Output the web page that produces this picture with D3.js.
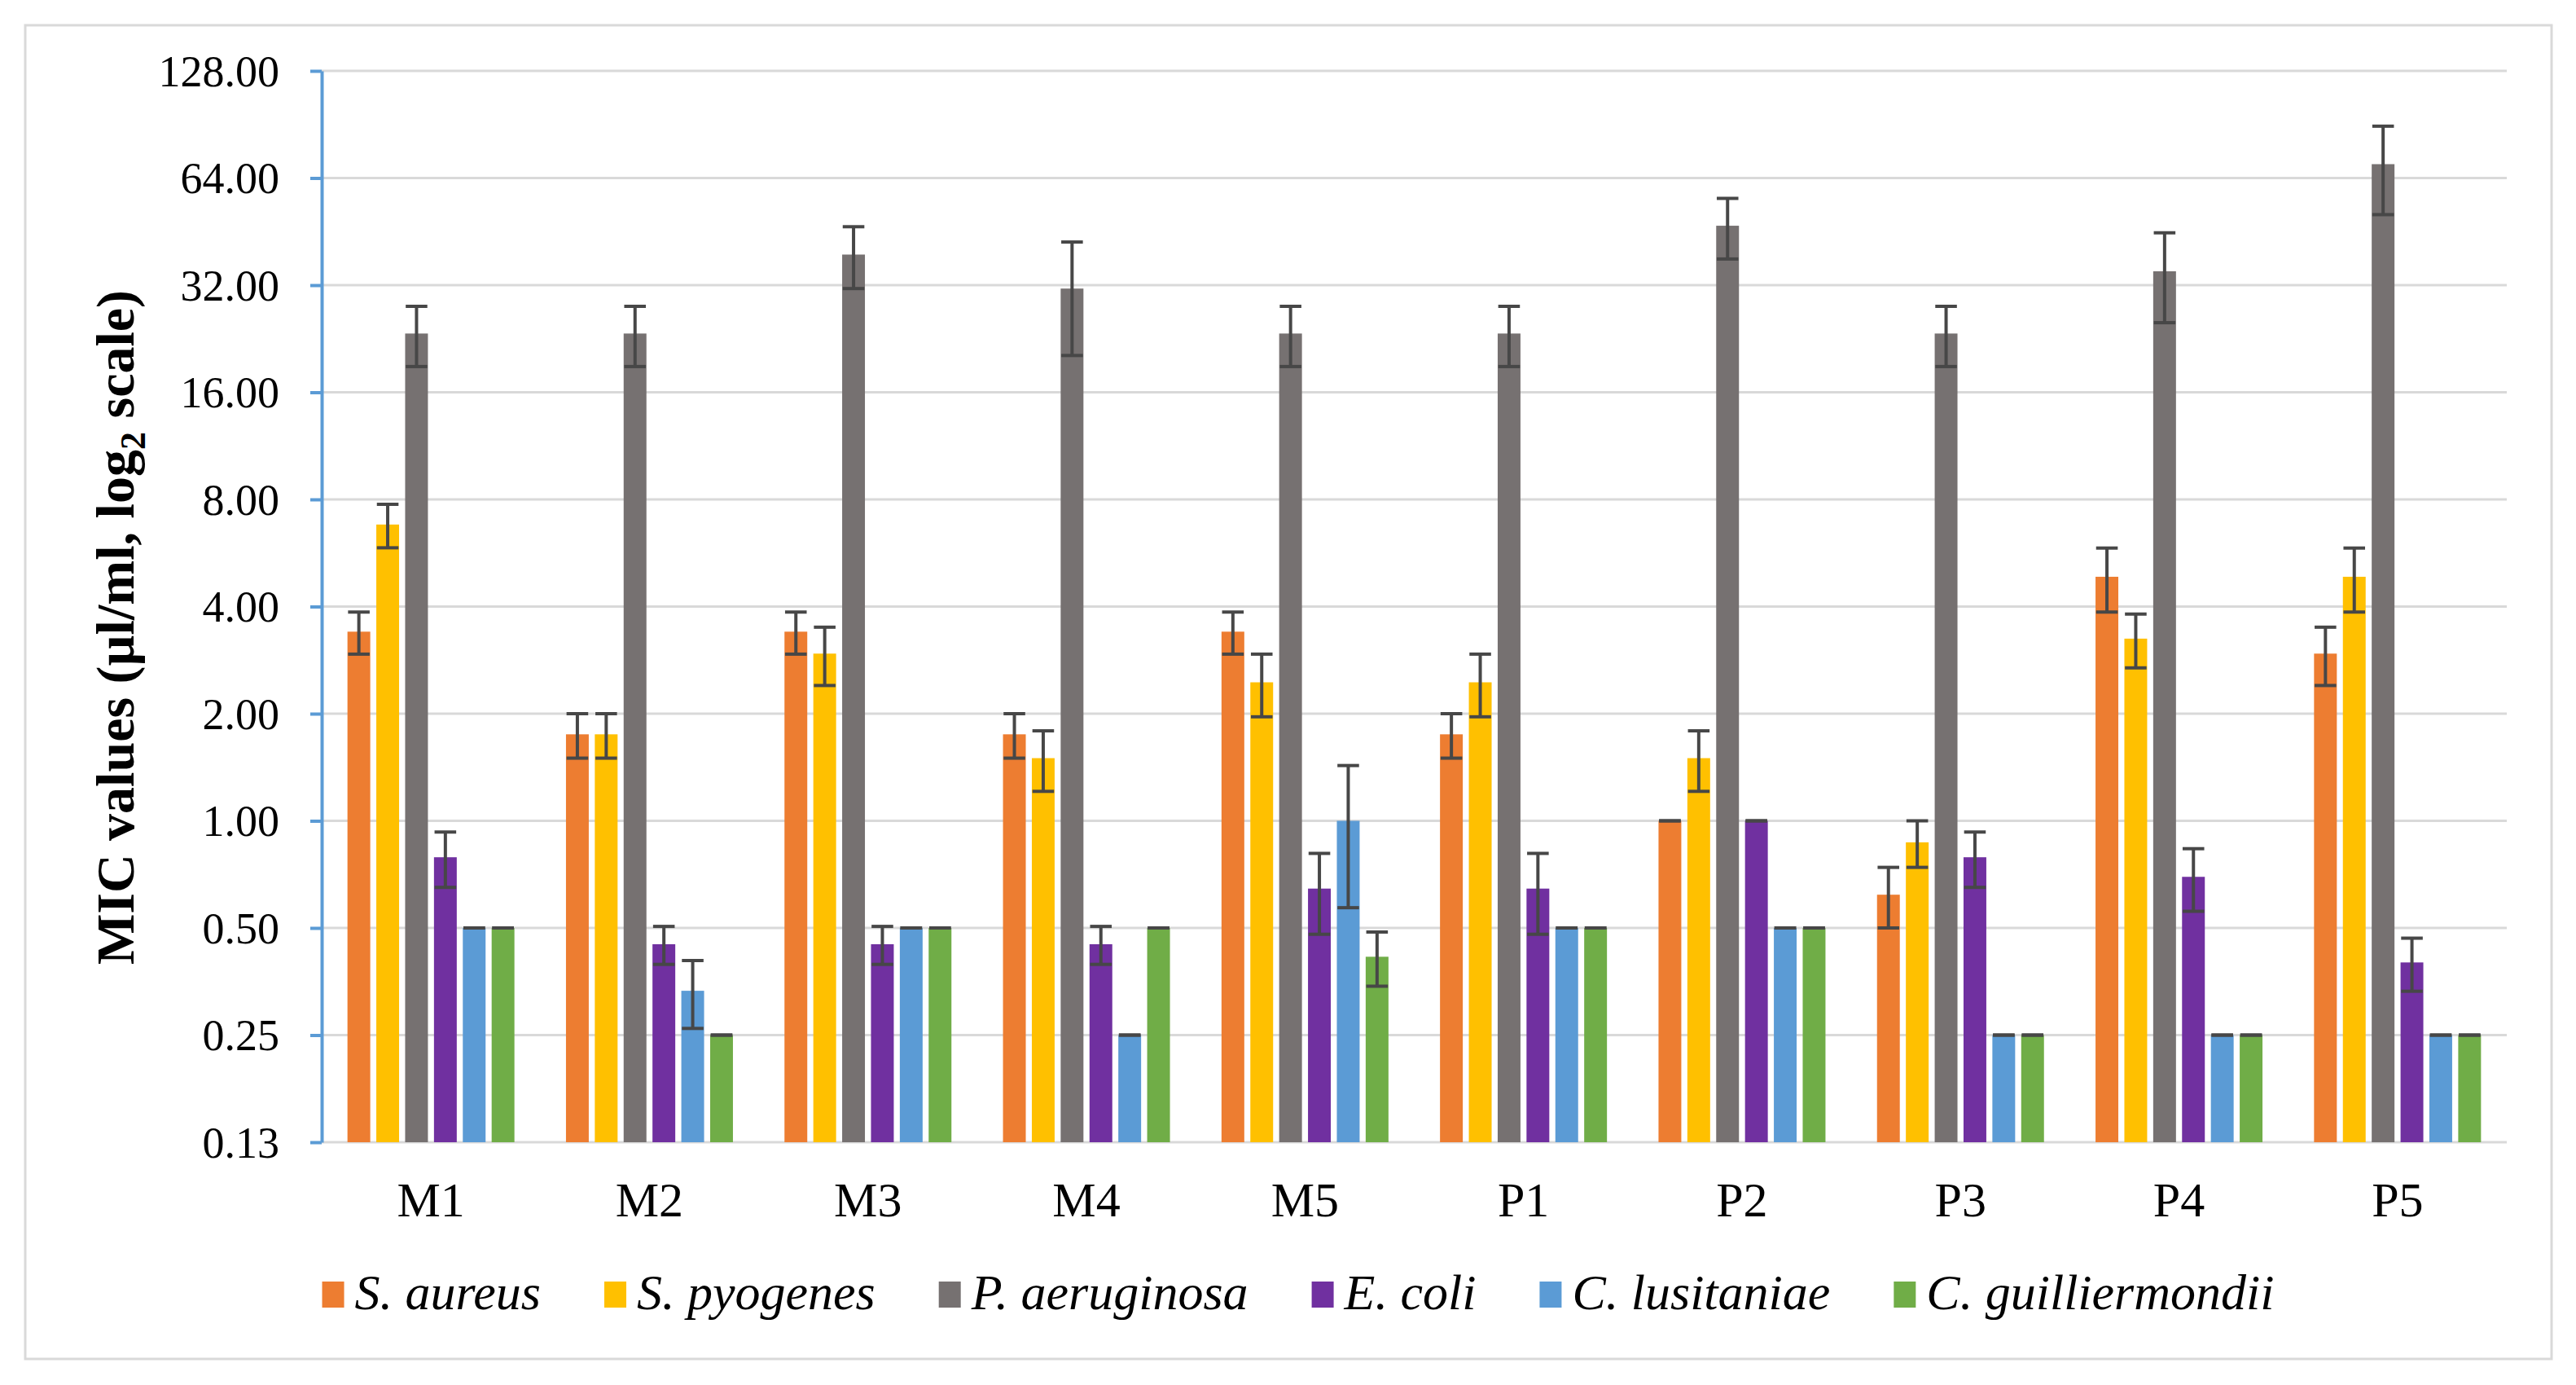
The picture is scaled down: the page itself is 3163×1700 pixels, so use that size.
<!DOCTYPE html>
<html>
<head>
<meta charset="utf-8">
<title>MIC values</title>
<script src="https://d3js.org/d3.v7.min.js"></script>
<style>
  body { margin: 0; background: #ffffff; }
  text { font-family: "Liberation Serif", "Times New Roman", serif; fill: #000; }
  .axis text { font-size: 54px; }
  .xlab { font-size: 60px; text-anchor: middle; }
  .legend text { font-size: 62px; font-style: italic; }
</style>
</head>
<body>
<script>
var categories = ["M1", "M2", "M3", "M4", "M5", "P1", "P2", "P3", "P4", "P5"];
var species = ["S. aureus", "S. pyogenes", "P. aeruginosa", "E. coli", "C. lusitaniae", "C. guilliermondii"];
var colors = ["#ED7D31", "#FFC000", "#767171", "#7030A0", "#5B9BD5", "#70AD47"];
var yTicks = [0.125, 0.25, 0.5, 1, 2, 4, 8, 16, 32, 64, 128];

// mean MIC and error bar (+/-) for each organism, in category order
var saureus = [3.4, 1.75, 3.4, 1.75, 3.4, 1.75, 1.0, 0.62, 4.85, 2.95];
var saureusErr = [0.46, 0.25, 0.46, 0.25, 0.46, 0.25, 0, 0.12, 0.99, 0.55];
var spyogenes = [6.8, 1.75, 2.95, 1.5, 2.45, 2.45, 1.5, 0.87, 3.25, 4.85];
var spyogenesErr = [0.95, 0.25, 0.55, 0.29, 0.49, 0.49, 0.29, 0.13, 0.56, 0.99];
var paeruginosa = [23.4, 23.4, 39, 31.3, 23.4, 23.4, 47, 23.4, 35, 70];
var paeruginosaErr = [4.5, 4.5, 7.7, 11, 4.5, 4.5, 9.1, 4.5, 9.9, 19.5];
var ecoli = [0.79, 0.45, 0.45, 0.45, 0.645, 0.645, 1.0, 0.79, 0.696, 0.4];
var ecoliErr = [0.14, 0.055, 0.055, 0.055, 0.165, 0.165, 0, 0.14, 0.139, 0.068];
var clusitaniae = [0.5, 0.333, 0.5, 0.25, 1.0, 0.5, 0.5, 0.25, 0.25, 0.25];
var clusitaniaeErr = [0, 0.072, 0, 0, 0.43, 0, 0, 0, 0, 0];
var cguilliermondii = [0.5, 0.25, 0.5, 0.5, 0.415, 0.5, 0.5, 0.25, 0.25, 0.25];
var cguilliermondiiErr = [0, 0, 0, 0, 0.072, 0, 0, 0, 0, 0];

var seriesValues = [saureus, spyogenes, paeruginosa, ecoli, clusitaniae, cguilliermondii];
var seriesErrors = [saureusErr, spyogenesErr, paeruginosaErr, ecoliErr, clusitaniaeErr, cguilliermondiiErr];

var width = 3163, height = 1700;
var plot = {left: 395, right: 3078, top: 87, bottom: 1402};

var svg = d3.select("body").append("svg")
  .attr("width", width)
  .attr("height", height);

svg.append("rect")
  .attr("width", width).attr("height", height)
  .attr("fill", "#fff");

// chart border
svg.append("rect")
  .attr("x", 31).attr("y", 31)
  .attr("width", 3102).attr("height", 1637)
  .attr("fill", "none")
  .attr("stroke", "#D9D9D9")
  .attr("stroke-width", 3);

var y = d3.scaleLog().base(2)
  .domain([0.125, 128])
  .range([plot.bottom, plot.top]);

var x0 = d3.scaleBand()
  .domain(categories)
  .range([plot.left, plot.right])
  .padding(0);

var groupWidth = 205;
var x1 = d3.scaleBand()
  .domain(d3.range(species.length))
  .range([0, groupWidth])
  .paddingInner(0.21)
  .paddingOuter(0);

// gridlines
svg.append("g").selectAll("line")
  .data(yTicks)
  .enter().append("line")
  .attr("x1", plot.left).attr("x2", plot.right)
  .attr("y1", function(d){ return y(d); })
  .attr("y2", function(d){ return y(d); })
  .attr("stroke", "#D9D9D9")
  .attr("stroke-width", 3);

// bars
var groups = svg.append("g").selectAll("g")
  .data(categories)
  .enter().append("g")
  .attr("transform", function(d){
    return "translate(" + (x0(d) + (x0.bandwidth() - groupWidth) / 2) + ",0)";
  });

groups.selectAll("rect")
  .data(function(d, i){
    return species.map(function(s, k){
      return {k: k, v: seriesValues[k][i], e: seriesErrors[k][i]};
    });
  })
  .enter().append("rect")
  .attr("x", function(d){ return x1(d.k); })
  .attr("y", function(d){ return y(d.v); })
  .attr("width", x1.bandwidth())
  .attr("height", function(d){ return plot.bottom - y(d.v); })
  .attr("fill", function(d){ return colors[d.k]; });

// error bars
var errColor = "#474747";
var capW = x1.bandwidth() * 0.95;
var errs = groups.selectAll("g.err")
  .data(function(d, i){
    return species.map(function(s, k){
      return {k: k, v: seriesValues[k][i], e: seriesErrors[k][i]};
    });
  })
  .enter().append("g")
  .attr("class", "err")
  .attr("stroke", errColor)
  .attr("stroke-width", 4);

errs.append("line")
  .attr("x1", function(d){ return x1(d.k) + x1.bandwidth() / 2; })
  .attr("x2", function(d){ return x1(d.k) + x1.bandwidth() / 2; })
  .attr("y1", function(d){ return y(d.v + d.e); })
  .attr("y2", function(d){ return y(d.v - d.e); });
errs.append("line")
  .attr("x1", function(d){ return x1(d.k) + (x1.bandwidth() - capW) / 2; })
  .attr("x2", function(d){ return x1(d.k) + (x1.bandwidth() + capW) / 2; })
  .attr("y1", function(d){ return y(d.v + d.e); })
  .attr("y2", function(d){ return y(d.v + d.e); });
errs.append("line")
  .attr("x1", function(d){ return x1(d.k) + (x1.bandwidth() - capW) / 2; })
  .attr("x2", function(d){ return x1(d.k) + (x1.bandwidth() + capW) / 2; })
  .attr("y1", function(d){ return y(d.v - d.e); })
  .attr("y2", function(d){ return y(d.v - d.e); });

// y axis
var yAxis = d3.axisLeft(y)
  .tickValues(yTicks)
  .tickFormat(d3.format(".2f"))
  .tickSizeInner(14)
  .tickSizeOuter(0)
  .tickPadding(38);

var yg = svg.append("g")
  .attr("class", "axis")
  .attr("transform", "translate(" + plot.left + ",0)")
  .call(yAxis);
yg.select(".domain").attr("stroke", "#5B9BD5").attr("stroke-width", 4);
yg.selectAll(".tick line").attr("stroke", "#5B9BD5").attr("stroke-width", 4);
yg.selectAll(".tick text").attr("fill", "#000").attr("dy", "0.34em");

// x labels
svg.append("g").selectAll("text")
  .data(categories)
  .enter().append("text")
  .attr("class", "xlab")
  .attr("x", function(d){ return x0(d) + x0.bandwidth() / 2; })
  .attr("y", 1493)
  .text(function(d){ return d; });

// y title
var yt = svg.append("text")
  .attr("transform", "translate(164,770) rotate(-90)")
  .attr("text-anchor", "middle")
  .style("font-size", "66px")
  .style("font-weight", "bold");
yt.append("tspan").text("MIC values (\u00b5l/ml, log");
yt.append("tspan").attr("dy", 14).style("font-size", "44px").text("2");
yt.append("tspan").attr("dy", -14).text(" scale)");

// legend
var legend = svg.append("g").attr("class", "legend");
var items = legend.selectAll("g")
  .data(species)
  .enter().append("g");
items.append("rect")
  .attr("width", 27).attr("height", 32)
  .attr("y", -34)
  .attr("fill", function(d, i){ return colors[i]; });
items.append("text")
  .attr("x", 40)
  .text(function(d){ return d; });

var xpos = 0;
items.each(function(){
  var g = d3.select(this);
  g.attr("transform", "translate(" + xpos + ",1607)");
  xpos += 40 + g.select("text").node().getComputedTextLength() + 78;
});
var legendW = xpos - 78;
legend.attr("transform", "translate(" + (1594 - legendW / 2) + ",0)");
</script>
</body>
</html>
